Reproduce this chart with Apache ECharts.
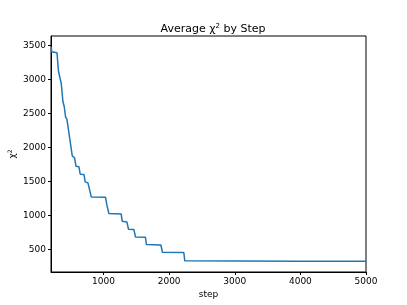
<!DOCTYPE html>
<html><head><meta charset="utf-8">
<script src="https://cdn.jsdelivr.net/npm/echarts@6/dist/echarts.min.js"></script>
<style>html,body{margin:0;padding:0;background:#fff}#c{width:407px;height:305px}</style>
</head><body><div id="c"></div>
<script>
const steps = [204, 210, 291, 315, 341, 356, 371, 382, 402, 422, 443, 473, 498, 524, 559, 580, 626, 645, 702, 721, 763, 787, 813, 1030, 1052, 1082, 1269, 1285, 1356, 1381, 1463, 1487, 1639, 1654, 1874, 1898, 2224, 2239, 3000, 4000, 5000];
const chi2 = [3483, 3410, 3395, 3115, 3106, 2944, 2919, 2673, 2599, 2451, 2413, 2215, 2192, 1876, 1847, 1724, 1714, 1606, 1602, 1493, 1478, 1381, 1271, 1267, 1149, 1027, 1021, 913, 903, 795, 791, 681, 677, 569, 563, 456, 451, 330, 327, 325, 325];
const xTicks = [1000, 2000, 3000, 4000, 5000];
const yTicks = [500, 1000, 1500, 2000, 2500, 3000, 3500];

const font = 'DejaVu Sans';
const chart = echarts.init(document.getElementById('c'), null, {renderer: 'canvas'});
chart.setOption({
  animation: false,
  title: {
    text: 'Average χ{sup|2} by Step',
    left: 208, top: 18, textAlign: 'center',
    textStyle: {
      fontFamily: font, fontSize: 11, fontWeight: 'normal', color: '#000',
      rich: {sup: {fontFamily: font, fontSize: 7, verticalAlign: 'top', padding: [0, 0, 6, 0], color: '#000'}}
    }
  },
  grid: {left: 51, right: 41, top: 36, bottom: 33, containLabel: false, outerBoundsMode: 'none',
    show: true, borderColor: '#000', borderWidth: 1, backgroundColor: 'transparent'},
  xAxis: {
    type: 'value', min: 200, max: 5000,
    name: 'step', nameLocation: 'middle', nameGap: 18, nameMoveOverlap: false,
    nameTextStyle: {fontFamily: font, fontSize: 9, color: '#000'},
    axisLine: {show: true, onZero: false, lineStyle: {color: '#000', width: 1}},
    axisTick: {show: true, length: 3, lineStyle: {color: '#000'}, customValues: xTicks},
    axisLabel: {fontFamily: font, fontSize: 9, color: '#000', margin: 5, customValues: xTicks, formatter: v => String(v)},
    splitLine: {show: false}
  },
  yAxis: {
    type: 'value', min: 165, max: 3641,
    name: 'χ{sup|2}', nameLocation: 'middle', nameGap: 33, nameRotate: 90, nameMoveOverlap: false,
    nameTextStyle: {fontFamily: font, fontSize: 9, color: '#000',
      rich: {sup: {fontFamily: font, fontSize: 6, verticalAlign: 'top', padding: [0, 0, 5, 0], color: '#000'}}},
    axisLine: {show: true, onZero: false, lineStyle: {color: '#000', width: 1}},
    axisTick: {show: true, length: 3, lineStyle: {color: '#000'}, customValues: yTicks},
    axisLabel: {fontFamily: font, fontSize: 9, color: '#000', margin: 5, customValues: yTicks, formatter: v => String(v)},
    splitLine: {show: false}
  },
  series: [{
    type: 'line', data: steps.map((s, i) => [s, chi2[i]]),
    showSymbol: false, symbol: 'none',
    lineStyle: {color: '#1f77b4', width: 1.5}
  }]
});
</script></body></html>
